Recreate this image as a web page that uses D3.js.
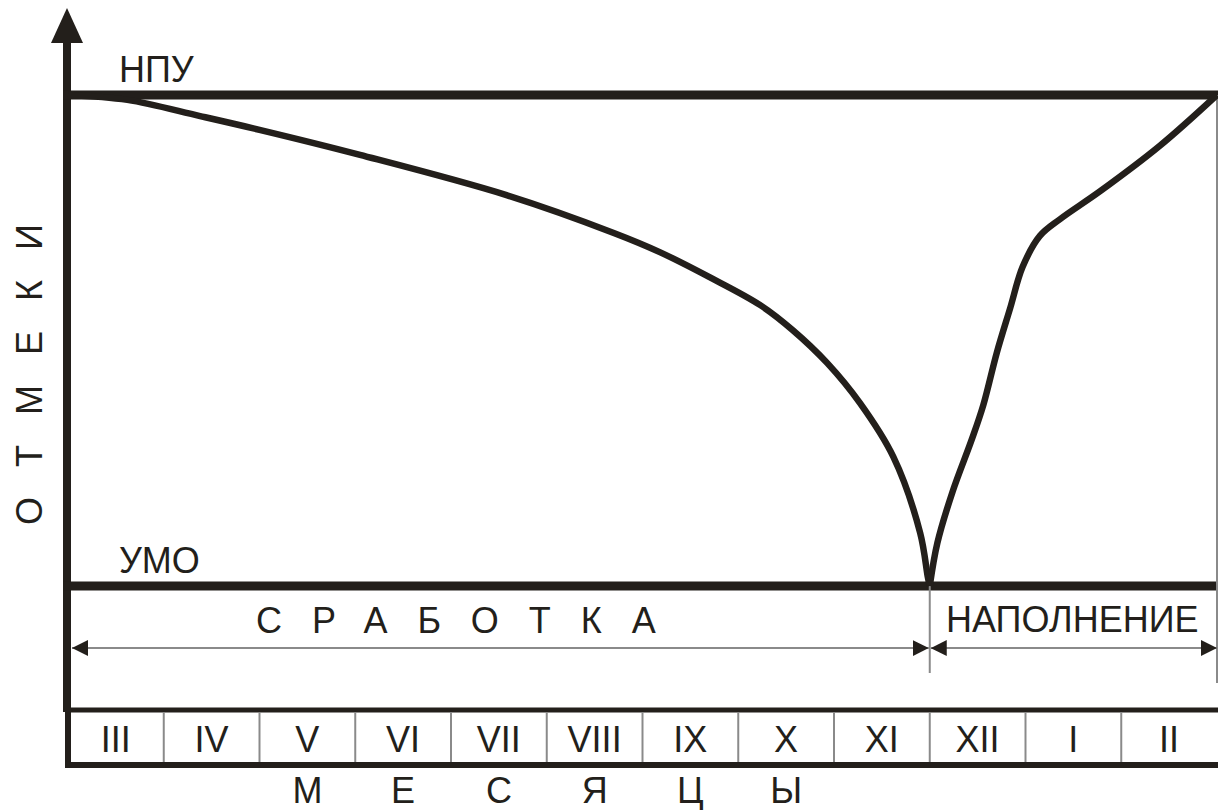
<!DOCTYPE html>
<html>
<head>
<meta charset="utf-8">
<script src="https://cdn.jsdelivr.net/npm/d3@7"></script>
<style>
  body { margin: 0; background: #fff; }
  text { font-family: "Liberation Sans", Arial, sans-serif; fill: #231f1b; }
</style>
</head>
<body>
<svg></svg>
<script>
const months = ["III", "IV", "V", "VI", "VII", "VIII", "IX", "X", "XI", "XII", "I", "II"];
const bottomLetters = ["М", "Е", "С", "Я", "Ц", "Ы"];
const drawdown = [
  [0, 100], [0.62, 99], [1.38, 95.7], [2.0, 92.9], [3.05, 87.8], [4.58, 79.6],
  [5.7, 71.9], [6.18, 68.0], [6.7, 62.9], [7.23, 57.2], [7.57, 52.1],
  [7.93, 45.4], [8.27, 37.3], [8.62, 26.3], [8.9, 10.8], [8.98, 1.8], [9, 0]
];
const filling = [
  [9, 0], [9.08, 8.8], [9.24, 19.3], [9.44, 29.9], [9.56, 36.9], [9.7, 47.5],
  [9.84, 56.6], [9.97, 65], [10.15, 71.3], [10.36, 74.7], [10.78, 80.4],
  [11.4, 89.6], [12, 100]
];
const levels = [{name: "НПУ", value: 100}, {name: "УМО", value: 0}];
const phases = [{name: "С Р А Б О Т К А", from: 0, to: 9}, {name: "НАПОЛНЕНИЕ", from: 9, to: 12}];
const yTitle = "О Т М Е К И";

const dark = "#231f1b";
const grey = "#8a8a8a";

const svg = d3.select("svg")
  .attr("width", 1218)
  .attr("height", 810);

const x = d3.scaleLinear().domain([0, 12]).range([68, 1217]);
const y = d3.scaleLinear().domain([0, 100]).range([586, 95]);

const defs = svg.append("defs");
defs.append("marker")
  .attr("id", "arr")
  .attr("viewBox", "0 0 16 16")
  .attr("refX", 16).attr("refY", 8)
  .attr("markerWidth", 16).attr("markerHeight", 16)
  .attr("markerUnits", "userSpaceOnUse")
  .attr("orient", "auto-start-reverse")
  .append("path")
  .attr("d", "M0,0L16,8L0,16Z")
  .attr("fill", dark);

// vertical axis with arrow
svg.append("line")
  .attr("x1", 67).attr("x2", 67)
  .attr("y1", 40).attr("y2", 712)
  .attr("stroke", dark).attr("stroke-width", 8);
svg.append("path")
  .attr("d", "M67,8L51,43L83,43Z")
  .attr("fill", dark);

// НПУ / УМО levels
svg.selectAll(".level")
  .data(levels)
  .enter()
  .append("line")
  .attr("class", "level")
  .attr("x1", 63).attr("x2", 1218)
  .attr("y1", d => y(d.value)).attr("y2", d => y(d.value))
  .attr("stroke", dark).attr("stroke-width", 9);

svg.selectAll(".level-label")
  .data(levels)
  .enter()
  .append("text")
  .attr("x", 119)
  .attr("y", d => y(d.value) - 13)
  .attr("font-size", 36)
  .text(d => d.name);

// thin verticals
[[9, y(0), 673], [12, y(100), 683]].forEach(v => {
  svg.append("line")
    .attr("x1", x(v[0])).attr("x2", x(v[0]))
    .attr("y1", v[1]).attr("y2", v[2])
    .attr("stroke", grey).attr("stroke-width", 2);
});

// curve
const line = d3.line()
  .x(d => x(d[0]))
  .y(d => y(d[1]))
  .curve(d3.curveCatmullRom.alpha(0.5));

[drawdown, filling].forEach(series => {
  svg.append("path")
    .attr("d", line(series))
    .attr("fill", "none")
    .attr("stroke", dark)
    .attr("stroke-width", 6.5);
});

// phase arrows
svg.selectAll(".phase")
  .data(phases)
  .enter()
  .append("line")
  .attr("class", "phase")
  .attr("x1", d => x(d.from) + (d.from === 0 ? 4 : 1))
  .attr("x2", d => x(d.to) - (d.to === 12 ? 0 : 1))
  .attr("y1", 648).attr("y2", 648)
  .attr("stroke", grey).attr("stroke-width", 2)
  .attr("marker-start", "url(#arr)")
  .attr("marker-end", "url(#arr)");

svg.append("text")
  .attr("x", 256).attr("y", 633)
  .attr("font-size", 36)
  .attr("letter-spacing", "30px")
  .text(phases[0].name.replace(/ /g, ""));

svg.append("text")
  .attr("x", 946).attr("y", 632)
  .attr("font-size", 36)
  .text(phases[1].name);

// month band
svg.append("line")
  .attr("x1", 65).attr("x2", 1218)
  .attr("y1", 710).attr("y2", 710)
  .attr("stroke", dark).attr("stroke-width", 5);
svg.append("line")
  .attr("x1", 65).attr("x2", 1218)
  .attr("y1", 765).attr("y2", 765)
  .attr("stroke", dark).attr("stroke-width", 6);
svg.append("line")
  .attr("x1", 68).attr("x2", 68)
  .attr("y1", 707).attr("y2", 768)
  .attr("stroke", dark).attr("stroke-width", 6);

svg.selectAll(".sep")
  .data(d3.range(1, 12))
  .enter()
  .append("line")
  .attr("class", "sep")
  .attr("x1", d => x(d)).attr("x2", d => x(d))
  .attr("y1", 712).attr("y2", 762)
  .attr("stroke", grey).attr("stroke-width", 2);

svg.selectAll(".month")
  .data(months)
  .enter()
  .append("text")
  .attr("class", "month")
  .attr("x", (d, i) => x(i + 0.5))
  .attr("y", 752)
  .attr("text-anchor", "middle")
  .attr("font-size", 36)
  .text(d => d);

svg.selectAll(".bl")
  .data(bottomLetters)
  .enter()
  .append("text")
  .attr("class", "bl")
  .attr("x", (d, i) => x(i + 2.5))
  .attr("y", 803)
  .attr("text-anchor", "middle")
  .attr("font-size", 36)
  .text(d => d);

// vertical title
svg.append("text")
  .attr("transform", "translate(42,525) rotate(-90)")
  .attr("font-size", 36)
  .attr("letter-spacing", "30px")
  .text(yTitle.replace(/ /g, ""));
</script>
</body>
</html>
